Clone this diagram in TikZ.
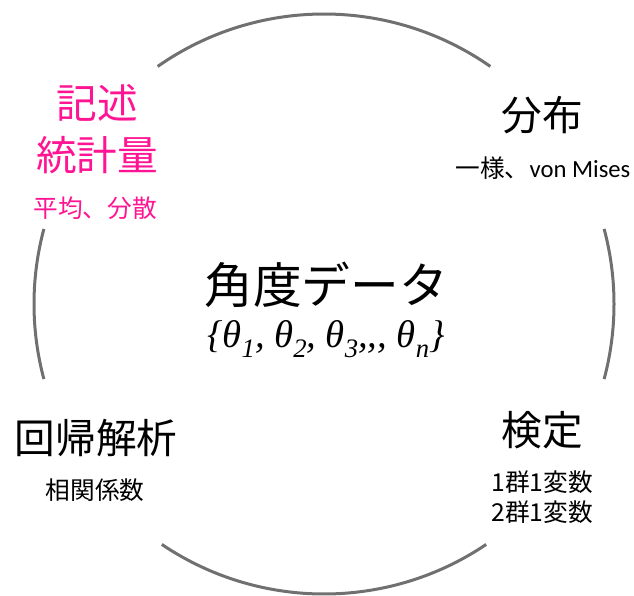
\documentclass[tikz,border=0pt]{standalone}
\usepackage{fontspec}
\setmainfont{Carlito}
\newfontfamily\jpfont{Noto Sans CJK JP}
\newfontfamily\timesfont{Liberation Serif}
\definecolor{mypink}{RGB}{255, 20, 147}
\definecolor{mygray}{RGB}{112, 112, 112}
\newcommand{\thsub}[1]{\raisebox{-0.55ex}{\fontsize{20}{20}\selectfont #1}}
\usepackage{tikz}
\tikzset{every picture/.style={line width=0.75pt}}

\begin{document}
\begin{tikzpicture}[x=0.75pt,y=0.75pt,yscale=-1,xscale=1,
  ring/.style={color=mygray, line width=2.25pt},
  bigtext/.style={inner sep=0.75pt, align=center, font=\jpfont\fontsize{30.5}{39}\selectfont},
  smalltext/.style={inner sep=0.75pt, align=center, font=\jpfont\fontsize{18.5}{22.5}\selectfont}]
\useasboundingbox (0,0) rectangle (634,595);

\coordinate (c) at (324,304);
%Arc top
\draw [ring] (c) ++(-55:290) arc (-55:-125:290) ;
%Arc left
\draw [ring] (c) ++(-165:290) arc (-165:-195:290) ;
%Arc right
\draw [ring] (c) ++(15:290) arc (15:-15:290) ;
%Arc bottom
\draw [ring] (c) ++(-236:290) arc (-236:-304:290) ;

% Text Node
\node (data) at (326,285) [inner sep=0.75pt, font=\jpfont\fontsize{36.5}{40}\selectfont] {角度データ};
% Text Node
\node (theta) at (326,339) [inner sep=0.75pt, font=\timesfont\itshape\fontsize{29}{32}\selectfont]
  {\{θ\thsub{1}, θ\thsub{2}, θ\thsub{3},,, θ\thsub{n}\}};
% Text Node
\node (kijutsu) at (97,129) [bigtext, text=mypink] {記述\\統計量};
% Text Node
\node (heikin) at (95,208) [smalltext, text=mypink] {平均、分散};
% Text Node
\node (bunpu) at (542,115) [bigtext] {分布};
% Text Node
\node (ichiyo) at (543,168) [smalltext] {{\jpfont 一様、}\fontspec{Carlito}von Mises};
% Text Node
\node (kaiki) at (96,438) [bigtext] {回帰解析};
% Text Node
\node (soukan) at (95,490) [smalltext] {相関係数};
% Text Node
\node (kentei) at (542,430) [bigtext] {検定};
% Text Node
\node (gun) at (542,497) [smalltext] {1群1変数\\2群1変数};

\end{tikzpicture}
\end{document}
